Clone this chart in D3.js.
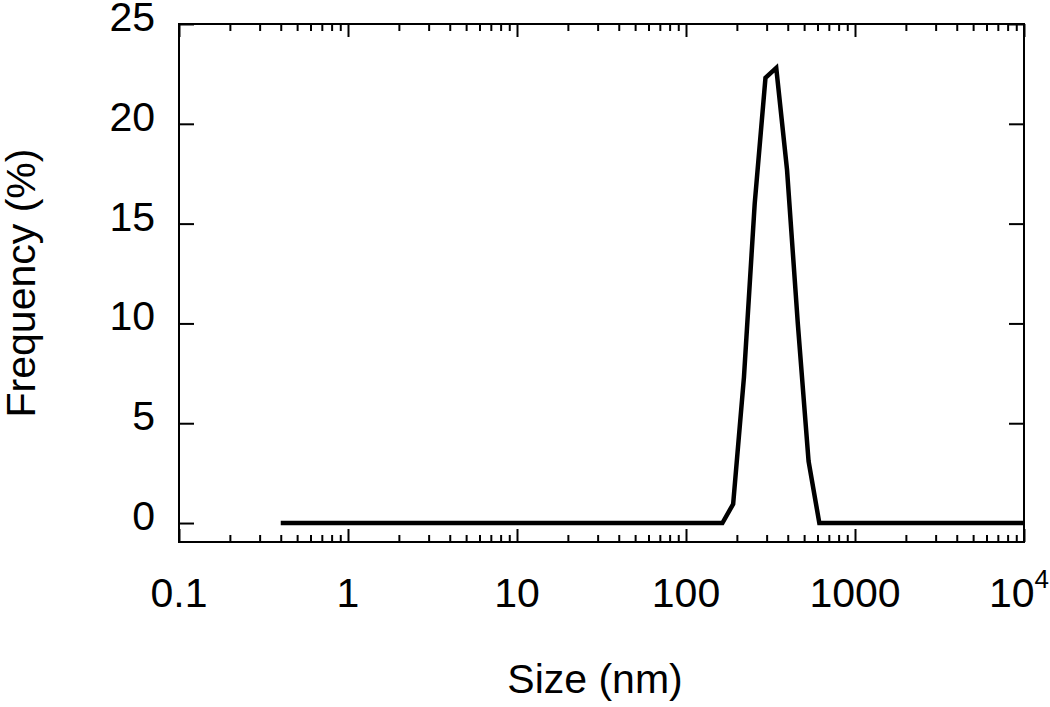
<!DOCTYPE html>
<html>
<head>
<meta charset="utf-8">
<script src="https://cdn.jsdelivr.net/npm/d3@7"></script>
<style>
  body { margin: 0; background: #fff; }
  text { font-family: "Liberation Sans", Arial, sans-serif; fill: #000; }
  .axis path, .axis line { stroke: #000; stroke-width: 2px; }
</style>
</head>
<body>
<script>
// size bins (nm) and frequency (%)
var sizes = [0.4, 0.4632, 0.5365, 0.6213, 0.7195, 0.8332, 0.9649, 1.117, 1.294, 1.499,
    1.736, 2.010, 2.328, 2.696, 3.122, 3.615, 4.187, 4.849, 5.615, 6.503,
    7.531, 8.721, 10.10, 11.70, 13.54, 15.69, 18.17, 21.04, 24.36, 28.21,
    32.67, 37.84, 43.82, 50.75, 58.77, 68.06, 78.82, 91.28, 105.7, 122.4,
    141.8, 164.2, 190.1, 220.2, 255.0, 295.3, 342.0, 396.1, 458.7, 531.2,
    615.1, 712.4, 825.0, 955.4, 1106, 1281, 1484, 1718, 1990, 2305,
    2669, 3091, 3580, 4145, 4801, 5560, 6439, 7456, 8635, 10000];
var freq = [0, 0, 0, 0, 0, 0, 0, 0, 0, 0,
    0, 0, 0, 0, 0, 0, 0, 0, 0, 0,
    0, 0, 0, 0, 0, 0, 0, 0, 0, 0,
    0, 0, 0, 0, 0, 0, 0, 0, 0, 0,
    0, 0, 0.95, 7.3, 16.0, 22.3, 22.8, 17.7, 10.0, 3.1,
    0, 0, 0, 0, 0, 0, 0, 0, 0, 0,
    0, 0, 0, 0, 0, 0, 0, 0, 0, 0];

var xMajor = [0.1, 1, 10, 100, 1000, 10000];
var xLabels = ["0.1", "1", "10", "100", "1000", "10^4"];
var yMajor = [0, 5, 10, 15, 20, 25];

// plot box
var box = {left: 179, right: 1024, top: 24, bottom: 542};

var x = d3.scaleLog().domain([0.1, 10000]).range([box.left, box.right]);
var y = d3.scaleLinear().domain([-0.95, 25]).range([box.bottom, box.top]);

// minor ticks 2..9 in each decade
var xMinor = [];
for (var i = 0; i < xMajor.length - 1; ++i) {
    for (var k = 2; k < 10; ++k) xMinor.push(xMajor[i] * k);
}

var svg = d3.select("body").append("svg")
    .attr("width", 1050)
    .attr("height", 707);

// frame
svg.append("rect")
    .attr("x", box.left).attr("y", box.top)
    .attr("width", box.right - box.left).attr("height", box.bottom - box.top)
    .attr("fill", "none").attr("stroke", "#000").attr("stroke-width", 2);

// ticks pointing inward, on all four sides
function addAxis(axis, tx, ty) {
    svg.append("g").attr("class", "axis")
        .attr("transform", "translate(" + tx + "," + ty + ")")
        .call(axis)
        .call(function(g) { g.select(".domain").remove(); g.selectAll("text").remove(); });
}
addAxis(d3.axisBottom(x).tickValues(xMajor).tickSize(-13), 0, box.bottom);
addAxis(d3.axisBottom(x).tickValues(xMinor).tickSize(-7), 0, box.bottom);
addAxis(d3.axisTop(x).tickValues(xMajor).tickSize(-13), 0, box.top);
addAxis(d3.axisTop(x).tickValues(xMinor).tickSize(-7), 0, box.top);
addAxis(d3.axisLeft(y).tickValues(yMajor).tickSize(-15), box.left, 0);
addAxis(d3.axisRight(y).tickValues(yMajor).tickSize(-15), box.right, 0);

// x tick labels (the last one is pushed in so its exponent stays on the page)
svg.selectAll(".xlab")
    .data(xMajor)
    .enter().append("text")
    .attr("class", "xlab")
    .attr("y", 607)
    .style("font-size", "41px")
    .each(function(d, i) {
        var t = d3.select(this);
        var lab = xLabels[i];
        if (lab.indexOf("^") > 0) {
            var parts = lab.split("^");
            t.attr("x", 1049).attr("text-anchor", "end");
            t.append("tspan").text(parts[0]);
            t.append("tspan").attr("dy", -19).style("font-size", "26px").text(parts[1]);
        } else {
            t.attr("x", x(d)).attr("text-anchor", "middle").text(lab);
        }
    });

// y tick labels
svg.selectAll(".ylab")
    .data(yMajor)
    .enter().append("text")
    .attr("class", "ylab")
    .attr("x", 155)
    .attr("y", function(d) { return y(d) + 7; })
    .attr("text-anchor", "end")
    .style("font-size", "41px")
    .text(function(d) { return d; });

// axis titles
svg.append("text")
    .attr("x", 595).attr("y", 693)
    .attr("text-anchor", "middle")
    .style("font-size", "41px")
    .text("Size (nm)");

svg.append("text")
    .attr("transform", "translate(35," + (box.top + box.bottom) / 2 + ") rotate(-90)")
    .attr("text-anchor", "middle")
    .style("font-size", "41px")
    .text("Frequency (%)");

// distribution line
var line = d3.line()
    .x(function(d) { return x(d[0]); })
    .y(function(d) { return y(d[1]); });

svg.append("path")
    .datum(d3.zip(sizes, freq))
    .attr("d", line)
    .attr("fill", "none")
    .attr("stroke", "#000")
    .attr("stroke-width", 4.5)
    .attr("stroke-linejoin", "miter");
</script>
</body>
</html>
